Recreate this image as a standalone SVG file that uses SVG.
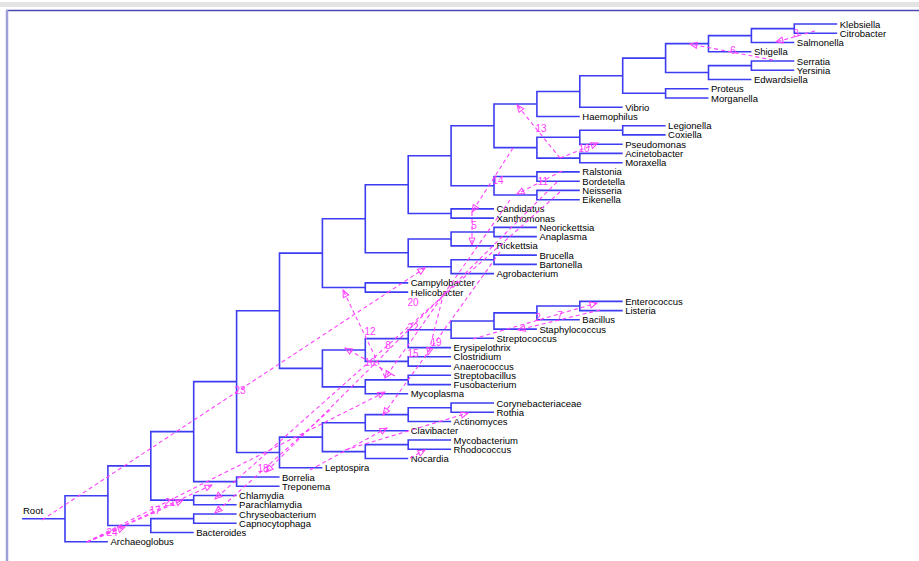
<svg xmlns="http://www.w3.org/2000/svg" width="919" height="561" viewBox="0 0 919 561">
<defs>
<style>
.t{font-family:"Liberation Sans",Arial,sans-serif;font-size:9.5px;fill:#000}
.e{fill:none;stroke:#3c3cf2;stroke-width:1.6}
.h{fill:none;stroke:#ff40ff;stroke-width:1.1;stroke-dasharray:4 3}
.n{font-family:"Liberation Sans",Arial,sans-serif;font-size:10px;fill:#ff40ff;text-anchor:middle}
</style>
<marker id="ar" markerWidth="9" markerHeight="9" refX="8" refY="4" orient="auto" markerUnits="userSpaceOnUse">
<path d="M1,1 L8,4 L1,7 Z" fill="none" stroke="#ff40ff" stroke-width="1"/>
</marker>
</defs>
<rect x="0" y="0" width="919" height="561" fill="#fff"/>
<rect x="0" y="2" width="919" height="5" fill="#e4e4e4"/>
<line x1="6" y1="10.5" x2="919" y2="10.5" stroke="#4a4ab0" stroke-width="1.5"/>
<line x1="7" y1="10" x2="7" y2="561" stroke="#a0a0d8" stroke-width="2.5"/>
<g id="connectors">
<path class="e" d="M22,518.7H65"/>
<path class="e" d="M837.2,24H794.3V33.2H837.2"/>
<path class="e" d="M794.3,28.6H751.4V42.5H794.3"/>
<path class="e" d="M751.4,35.6H708.5V51.7H751.4"/>
<path class="e" d="M794.3,61H751.4V70.2H794.3"/>
<path class="e" d="M751.4,65.6H708.5V79.5H751.4"/>
<path class="e" d="M708.5,43.6H665.6V72.5H708.5"/>
<path class="e" d="M708.5,88.7H665.6V98H708.5"/>
<path class="e" d="M665.6,58.1H622.7V93.3H665.6"/>
<path class="e" d="M622.7,75.7H579.8V107.2H622.7"/>
<path class="e" d="M579.8,91.5H536.9V116.5H579.8"/>
<path class="e" d="M665.6,125.7H622.7V134.9H665.6"/>
<path class="e" d="M622.7,130.3H579.8V144.2H622.7"/>
<path class="e" d="M622.7,153.4H579.8V162.7H622.7"/>
<path class="e" d="M579.8,137.2H536.9V158.1H579.8"/>
<path class="e" d="M536.9,104H494V147.6H536.9"/>
<path class="e" d="M579.8,171.9H536.9V181.2H579.8"/>
<path class="e" d="M579.8,190.4H536.9V199.7H579.8"/>
<path class="e" d="M536.9,176.5H494V195H536.9"/>
<path class="e" d="M494,125.8H451.1V185.8H494"/>
<path class="e" d="M494,208.9H451.1V218.1H494"/>
<path class="e" d="M451.1,155.8H408.2V213.5H451.1"/>
<path class="e" d="M536.9,227.4H494V236.6H536.9"/>
<path class="e" d="M494,232H451.1V245.9H494"/>
<path class="e" d="M536.9,255.1H494V264.4H536.9"/>
<path class="e" d="M494,259.7H451.1V273.6H494"/>
<path class="e" d="M451.1,239H408.2V266.7H451.1"/>
<path class="e" d="M408.2,184.7H365.3V252.8H408.2"/>
<path class="e" d="M408.2,282.9H365.3V292.1H408.2"/>
<path class="e" d="M365.3,218.8H322.4V287.5H365.3"/>
<path class="e" d="M622.7,301.4H579.8V310.6H622.7"/>
<path class="e" d="M579.8,306H536.9V319.8H579.8"/>
<path class="e" d="M536.9,312.9H494V329.1H536.9"/>
<path class="e" d="M494,321H451.1V338.3H494"/>
<path class="e" d="M451.1,329.7H408.2V347.6H451.1"/>
<path class="e" d="M451.1,356.8H408.2V366.1H451.1"/>
<path class="e" d="M408.2,338.6H365.3V361.4H408.2"/>
<path class="e" d="M451.1,375.3H408.2V384.6H451.1"/>
<path class="e" d="M408.2,379.9H365.3V393.8H408.2"/>
<path class="e" d="M365.3,350H322.4V386.9H365.3"/>
<path class="e" d="M322.4,253.1H279.5V368.4H322.4"/>
<path class="e" d="M494,403H451.1V412.3H494"/>
<path class="e" d="M451.1,407.7H408.2V421.5H451.1"/>
<path class="e" d="M408.2,414.6H365.3V430.8H408.2"/>
<path class="e" d="M451.1,440H408.2V449.3H451.1"/>
<path class="e" d="M408.2,444.6H365.3V458.5H408.2"/>
<path class="e" d="M365.3,422.7H322.4V451.6H365.3"/>
<path class="e" d="M322.4,437.1H279.5V467.8H322.4"/>
<path class="e" d="M279.5,310.8H236.6V452.5H279.5"/>
<path class="e" d="M279.5,477H236.6V486.3H279.5"/>
<path class="e" d="M236.6,381.6H193.7V481.6H236.6"/>
<path class="e" d="M236.6,495.5H193.7V504.7H236.6"/>
<path class="e" d="M193.7,431.6H150.8V500.1H193.7"/>
<path class="e" d="M236.6,514H193.7V523.2H236.6"/>
<path class="e" d="M193.7,518.6H150.8V532.5H193.7"/>
<path class="e" d="M150.8,465.9H107.9V525.5H150.8"/>
<path class="e" d="M107.9,495.7H65V541.7H107.9"/>
</g>
<g id="root"><text class="t" x="23" y="514">Root</text></g>
<g id="leaves">
<g id="n-klebsiella"><text class="t" x="839.7" y="27.5">Klebsiella</text></g>
<g id="n-citrobacter"><text class="t" x="839.7" y="36.7">Citrobacter</text></g>
<g id="n-salmonella"><text class="t" x="796.8" y="46">Salmonella</text></g>
<g id="n-shigella"><text class="t" x="753.9" y="55.2">Shigella</text></g>
<g id="n-serratia"><text class="t" x="796.8" y="64.5">Serratia</text></g>
<g id="n-yersinia"><text class="t" x="796.8" y="73.7">Yersinia</text></g>
<g id="n-edwardsiella"><text class="t" x="753.9" y="83">Edwardsiella</text></g>
<g id="n-proteus"><text class="t" x="711" y="92.2">Proteus</text></g>
<g id="n-morganella"><text class="t" x="711" y="101.5">Morganella</text></g>
<g id="n-vibrio"><text class="t" x="625.2" y="110.7">Vibrio</text></g>
<g id="n-haemophilus"><text class="t" x="582.3" y="120">Haemophilus</text></g>
<g id="n-legionella"><text class="t" x="668.1" y="129.2">Legionella</text></g>
<g id="n-coxiella"><text class="t" x="668.1" y="138.4">Coxiella</text></g>
<g id="n-pseudomonas"><text class="t" x="625.2" y="147.7">Pseudomonas</text></g>
<g id="n-acinetobacter"><text class="t" x="625.2" y="156.9">Acinetobacter</text></g>
<g id="n-moraxella"><text class="t" x="625.2" y="166.2">Moraxella</text></g>
<g id="n-ralstonia"><text class="t" x="582.3" y="175.4">Ralstonia</text></g>
<g id="n-bordetella"><text class="t" x="582.3" y="184.7">Bordetella</text></g>
<g id="n-neisseria"><text class="t" x="582.3" y="193.9">Neisseria</text></g>
<g id="n-eikenella"><text class="t" x="582.3" y="203.2">Eikenella</text></g>
<g id="n-candidatus"><text class="t" x="496.5" y="212.4">Candidatus</text></g>
<g id="n-xanthomonas"><text class="t" x="496.5" y="221.6">Xanthomonas</text></g>
<g id="n-neorickettsia"><text class="t" x="539.4" y="230.9">Neorickettsia</text></g>
<g id="n-anaplasma"><text class="t" x="539.4" y="240.1">Anaplasma</text></g>
<g id="n-rickettsia"><text class="t" x="496.5" y="249.4">Rickettsia</text></g>
<g id="n-brucella"><text class="t" x="539.4" y="258.6">Brucella</text></g>
<g id="n-bartonella"><text class="t" x="539.4" y="267.9">Bartonella</text></g>
<g id="n-agrobacterium"><text class="t" x="496.5" y="277.1">Agrobacterium</text></g>
<g id="n-campylobacter"><text class="t" x="410.7" y="286.4">Campylobacter</text></g>
<g id="n-helicobacter"><text class="t" x="410.7" y="295.6">Helicobacter</text></g>
<g id="n-enterococcus"><text class="t" x="625.2" y="304.9">Enterococcus</text></g>
<g id="n-listeria"><text class="t" x="625.2" y="314.1">Listeria</text></g>
<g id="n-bacillus"><text class="t" x="582.3" y="323.3">Bacillus</text></g>
<g id="n-staphylococcus"><text class="t" x="539.4" y="332.6">Staphylococcus</text></g>
<g id="n-streptococcus"><text class="t" x="496.5" y="341.8">Streptococcus</text></g>
<g id="n-erysipelothrix"><text class="t" x="453.6" y="351.1">Erysipelothrix</text></g>
<g id="n-clostridium"><text class="t" x="453.6" y="360.3">Clostridium</text></g>
<g id="n-anaerococcus"><text class="t" x="453.6" y="369.6">Anaerococcus</text></g>
<g id="n-streptobacillus"><text class="t" x="453.6" y="378.8">Streptobacillus</text></g>
<g id="n-fusobacterium"><text class="t" x="453.6" y="388.1">Fusobacterium</text></g>
<g id="n-mycoplasma"><text class="t" x="410.7" y="397.3">Mycoplasma</text></g>
<g id="n-corynebacteriaceae"><text class="t" x="496.5" y="406.5">Corynebacteriaceae</text></g>
<g id="n-rothia"><text class="t" x="496.5" y="415.8">Rothia</text></g>
<g id="n-actinomyces"><text class="t" x="453.6" y="425">Actinomyces</text></g>
<g id="n-clavibacter"><text class="t" x="410.7" y="434.3">Clavibacter</text></g>
<g id="n-mycobacterium"><text class="t" x="453.6" y="443.5">Mycobacterium</text></g>
<g id="n-rhodococcus"><text class="t" x="453.6" y="452.8">Rhodococcus</text></g>
<g id="n-nocardia"><text class="t" x="410.7" y="462">Nocardia</text></g>
<g id="n-leptospira"><text class="t" x="324.9" y="471.3">Leptospira</text></g>
<g id="n-borrelia"><text class="t" x="282" y="480.5">Borrelia</text></g>
<g id="n-treponema"><text class="t" x="282" y="489.8">Treponema</text></g>
<g id="n-chlamydia"><text class="t" x="239.1" y="499">Chlamydia</text></g>
<g id="n-parachlamydia"><text class="t" x="239.1" y="508.2">Parachlamydia</text></g>
<g id="n-chryseobacterium"><text class="t" x="239.1" y="517.5">Chryseobacterium</text></g>
<g id="n-capnocytophaga"><text class="t" x="239.1" y="526.7">Capnocytophaga</text></g>
<g id="n-bacteroides"><text class="t" x="196.2" y="536">Bacteroides</text></g>
<g id="n-archaeoglobus"><text class="t" x="110.4" y="545.2">Archaeoglobus</text></g>
</g>
<g id="transfers">
<path class="h" marker-end="url(#ar)" d="M42,520L425,268"/>
<path class="h" marker-end="url(#ar)" d="M773,60L690,44"/>
<path class="h" marker-end="url(#ar)" d="M815,31L776,42"/>
<path class="h" marker-end="url(#ar)" d="M560,158L517,105"/>
<path class="h" marker-end="url(#ar)" d="M560,158L598,143"/>
<path class="h" marker-end="url(#ar)" d="M513,148L472,212"/>
<path class="h" marker-end="url(#ar)" d="M472,212L472,245"/>
<path class="h" marker-end="url(#ar)" d="M562,171L517,194"/>
<path class="h" marker-end="url(#ar)" d="M385,377L343,290"/>
<path class="h" marker-end="url(#ar)" d="M395,376L345,348"/>
<path class="h" marker-end="url(#ar)" d="M87,542L125,527"/>
<path class="h" marker-end="url(#ar)" d="M87,542L212,485"/>
<path class="h" marker-end="url(#ar)" d="M87,542L183,500"/>
<path class="h" marker-end="url(#ar)" d="M87,542L385,392"/>
<path class="h" marker-end="url(#ar)" d="M330,410L215,513"/>
<path class="h" marker-end="url(#ar)" d="M560,192L215,499"/>
<path class="h" marker-end="url(#ar)" d="M557,182L266,472"/>
<path class="h" marker-end="url(#ar)" d="M510,200L385,378"/>
<path class="h" marker-end="url(#ar)" d="M500,252L383,415"/>
<path class="h" marker-end="url(#ar)" d="M442,300L428,355"/>
<path class="h" marker-end="url(#ar)" d="M473,339L597,303"/>
<path class="h" marker-end="url(#ar)" d="M600,310L518,330"/>
<path class="h" marker-end="url(#ar)" d="M310,470L387,428"/>
<path class="h" marker-end="url(#ar)" d="M345,450L468,413"/>
<path class="h" marker-end="url(#ar)" d="M410,458L425,450"/>
<text class="n" x="240" y="394">23</text>
<text class="n" x="733" y="54">6</text>
<text class="n" x="796" y="37">3</text>
<text class="n" x="541" y="132">13</text>
<text class="n" x="584" y="152">10</text>
<text class="n" x="498" y="184">14</text>
<text class="n" x="474" y="229">5</text>
<text class="n" x="543" y="185">11</text>
<text class="n" x="370" y="335">12</text>
<text class="n" x="370" y="366">16</text>
<text class="n" x="112" y="536">24</text>
<text class="n" x="155" y="514">17</text>
<text class="n" x="170" y="506">21</text>
<text class="n" x="263" y="472">18</text>
<text class="n" x="388" y="349">8</text>
<text class="n" x="413" y="331">22</text>
<text class="n" x="413" y="306">20</text>
<text class="n" x="413" y="357">15</text>
<text class="n" x="436" y="346">19</text>
<text class="n" x="538" y="321">2</text>
<text class="n" x="560" y="319">7</text>
</g>
</svg>
